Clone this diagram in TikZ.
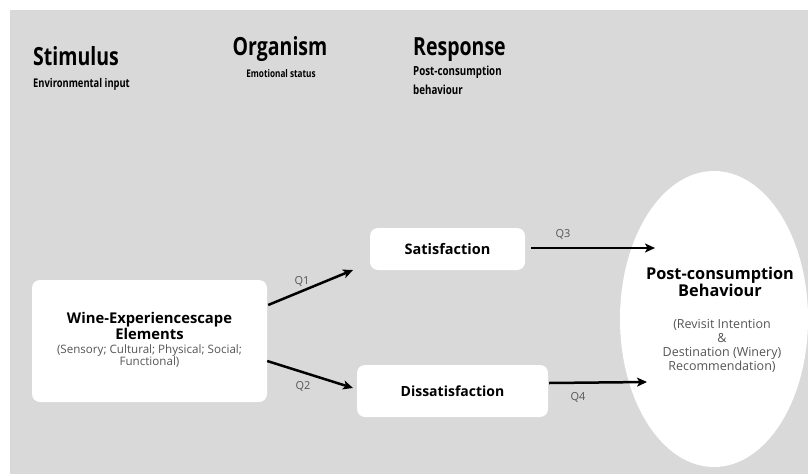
\documentclass[tikz,border=0pt]{standalone}
\usepackage{fontspec}
\setmainfont{Open Sans}
\newfontfamily\hdrfont{Open Sans}[FakeStretch=0.78]
\usetikzlibrary{arrows.meta,shapes.geometric}
\definecolor{bg}{HTML}{D9D9D9}
\definecolor{subgray}{HTML}{555555}
\tikzset{
  card/.style={fill=white, draw=none, rounded corners=8pt, inner sep=0pt},
  arr/.style={line width=2.5pt, -{Stealth[length=10pt,width=9pt,inset=2.5pt]}},
  qlab/.style={font=\fontsize{11}{12}\selectfont, text=subgray, inner sep=0pt},
}
\begin{document}
\begin{tikzpicture}[x=1pt,y=-1pt]
\fill[white] (0,0) rectangle (808,474);
\useasboundingbox (0,0) rectangle (808,474);
\fill[bg] (10,10) rectangle (808,474);

% headers
\node[anchor=base west, inner sep=0pt, font=\hdrfont\bfseries\fontsize{25}{28}\selectfont] (hs) at (33,65) {Stimulus};
\node[anchor=base west, inner sep=0pt, font=\hdrfont\bfseries\fontsize{12}{13}\selectfont] (hs2) at (33,87) {Environmental input};
\node[anchor=base, inner sep=0pt, font=\hdrfont\bfseries\fontsize{25}{28}\selectfont] (ho) at (280,55) {Organism};
\node[anchor=base, inner sep=0pt, font=\hdrfont\bfseries\fontsize{10.5}{12}\selectfont] (ho2) at (281,77) {Emotional status};
\node[anchor=base west, inner sep=0pt, font=\hdrfont\bfseries\fontsize{25}{28}\selectfont] (hr) at (413,55) {Response};
\node[anchor=north west, inner sep=0pt, align=left, font=\hdrfont\bfseries\fontsize{12.5}{19}\selectfont] (hr2) at (413,66) {Post-consumption\\behaviour};

% boxes
\node[card, minimum width=235pt, minimum height=122pt] (wine) at (149.5,341) {};
\node[align=center, inner sep=0pt, font=\bfseries\fontsize{14.8}{14}\selectfont] (winet) at (149.5,326) {Wine-Experiencescape\\Elements};
\node[align=center, inner sep=0pt, text=subgray, font=\fontsize{11.6}{12.5}\selectfont] (wines) at (149.5,356) {(Sensory; Cultural; Physical; Social;\\Functional)};

\node[card, minimum width=155pt, minimum height=42pt, font=\bfseries\fontsize{14.5}{16}\selectfont] (sat) at (447.5,249) {Satisfaction};
\node[card, minimum width=191pt, minimum height=52pt, font=\bfseries\fontsize{14}{16}\selectfont] (dis) at (452.5,391) {Dissatisfaction};

\node[fill=white, ellipse, minimum width=188pt, minimum height=296pt, inner sep=0pt] (resp) at (714,319) {};
\node[align=center, inner sep=0pt, font=\bfseries\fontsize{16.3}{15}\selectfont] (respt) at (720,282) {Post-consumption\\Behaviour};
\node[align=center, inner sep=0pt, text=subgray, font=\fontsize{12.5}{13.8}\selectfont] (resps) at (722,346) {(Revisit Intention\\\&\\Destination (Winery)\\Recommendation)};

% arrows
\coordinate (q1e) at (353,270);
\coordinate (q2e) at (353,388);
\coordinate (q3e) at (655,248);
\coordinate (q4e) at (647,382);
\draw[arr] ([yshift=36pt,xshift=1pt]wine.east) -- (q1e);
\draw[arr] ([yshift=-20pt]wine.east) -- (q2e);
\draw[arr] ([xshift=6pt,yshift=1pt]sat.east) -- (q3e);
\draw[arr] ([xshift=1pt,yshift=8pt]dis.east) -- (q4e);

\node[qlab] (l1) at (302,281) {Q1};
\node[qlab] (l2) at (303,386) {Q2};
\node[qlab] (l3) at (563,234) {Q3};
\node[qlab] (l4) at (578,397) {Q4};
\end{tikzpicture}
\end{document}
